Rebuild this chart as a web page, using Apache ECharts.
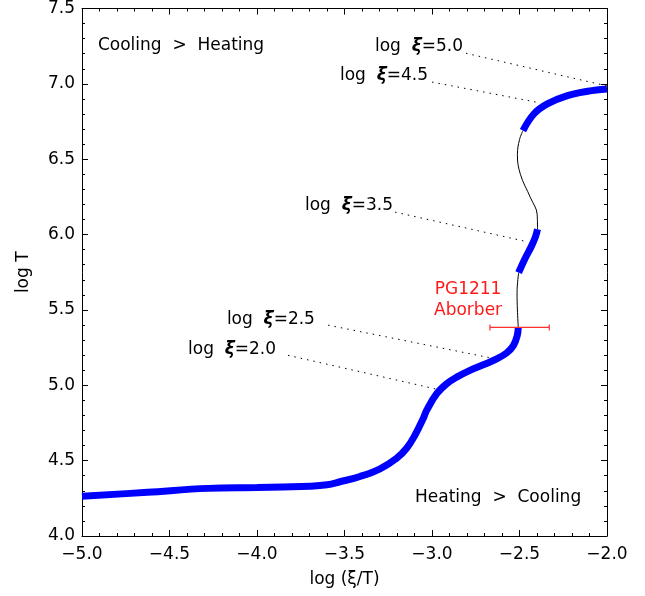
<!DOCTYPE html>
<html>
<head>
<meta charset="utf-8">
<script src="https://cdn.jsdelivr.net/npm/echarts@6/dist/echarts.min.js"></script>
<style>html,body{margin:0;padding:0;background:#fff}#c{width:645px;height:596px}</style>
</head>
<body>
<div id="c"></div>
<script>
// ---- data ----
const xTicks = [-5.0, -4.5, -4.0, -3.5, -3.0, -2.5, -2.0];
const yTicks = [4.0, 4.5, 5.0, 5.5, 6.0, 6.5, 7.0, 7.5];
// stable (thick) branches of the S-curve: [log(xi/T), log T]
const stableLow = [[-5.0,4.263],[-4.625,4.29],[-4.28,4.316],[-4.0,4.321],[-3.853,4.325],[-3.70,4.330],[-3.60,4.340],[-3.526,4.360],[-3.411,4.395],[-3.297,4.446],[-3.202,4.516],[-3.145,4.582],[-3.097,4.670],[-3.05,4.780],[-3.030,4.835],[-2.973,4.944],[-2.916,5.010],[-2.859,5.054],[-2.783,5.099],[-2.707,5.136],[-2.630,5.175],[-2.573,5.215],[-2.535,5.263],[-2.513,5.329],[-2.507,5.384]];
const stableMid = [[-2.505,5.747],[-2.471,5.835],[-2.433,5.920],[-2.409,5.985],[-2.397,6.035]];
const stableHigh = [[-2.48,6.69],[-2.418,6.80],[-2.341,6.867],[-2.226,6.922],[-2.11,6.951],[-2.0,6.966]];
// unstable (thin) branches
const unstable1 = [[-2.507,5.384],[-2.512,5.50],[-2.514,5.615],[-2.505,5.747]];
const unstable2 = [[-2.397,6.035],[-2.399,6.133],[-2.437,6.244],[-2.495,6.40],[-2.512,6.53],[-2.50,6.63],[-2.48,6.69]];
// ionization parameter markers: label, label anchor, curve point
const xiNames = ['log ξ=5.0','log ξ=4.5','log ξ=3.5','log ξ=2.5','log ξ=2.0'];
const xiLabelAt = [[-2.823,7.25],[-3.023,7.052],[-3.223,6.195],[-3.669,5.437],[-3.891,5.239]];
const xiLineFrom = [[-2.806,7.203],[-3.0,7.012],[-3.211,6.149],[-3.594,5.399],[-3.823,5.199]];
const xiLineTo = [[-2.0,6.986],[-2.383,6.874],[-2.451,5.951],[-2.657,5.180],[-2.954,4.969]];
// PG1211 absorber: [x, y, xLow, xHigh]
const absorber = [[-2.507, 5.384, -2.669, -2.33]];
const regionText = ['Cooling  >  Heating', 'Heating  >  Cooling'];
const regionAt = [[-4.909,7.255],[-3.097,4.255]];
const absText = ['PG1211', 'Aborber'];
const absAt = [[-2.794,5.635],[-2.794,5.497]];

const FONT = 'DejaVu Sans';
const fmt = v => v.toFixed(1).replace('-', '\u2212');

function axisCommon(showLabel) {
  return {
    axisLine: {show: true, onZero: false, lineStyle: {color: '#000', width: 1}},
    axisTick: {show: true, inside: true, length: 6, lineStyle: {color: '#000'}},
    minorTick: {show: true, splitNumber: 5, length: 3, lineStyle: {color: '#000'}},
    splitLine: {show: false},
    axisLabel: {show: showLabel, formatter: fmt, color: '#000', fontFamily: FONT, fontSize: 17}
  };
}

const chart = echarts.init(document.getElementById('c'), null, {renderer: 'canvas'});

const xiData = xiNames.map((n, i) => ({
  value: xiLabelAt[i], name: n,
  label: {show: true, position: 'left', distance: 0, opacity: 1,
    formatter: '{a|log  }{b|ξ}{a|=' + n.split('=')[1] + '}',
    rich: {a: {fontFamily: FONT, fontSize: 17, color: '#000'},
           b: {fontFamily: FONT, fontSize: 17, color: '#000', fontStyle: 'italic', fontWeight: 'bold'}}}
}));

const regionData = regionText.map((t, i) => ({
  value: regionAt[i],
  label: {show: true, position: 'right', distance: 0, formatter: t, opacity: 1,
    fontFamily: FONT, fontSize: 17, color: '#000'}
}));

const absData = absText.map((t, i) => ({
  value: absAt[i],
  label: {show: true, position: 'inside', formatter: t, opacity: 1,
    fontFamily: FONT, fontSize: 17, color: '#ff1a1a'}
}));

const leaderLines = xiLineFrom.map((p, i) => [{coord: p}, {coord: xiLineTo[i]}]);

const thick = d => ({type: 'line', data: d, smooth: 0.4, symbol: 'none', z: 3,
  lineStyle: {color: '#0000ff', width: 7, cap: 'butt'}});
const thin = d => ({type: 'line', data: d, smooth: 0.4, symbol: 'none', z: 2,
  lineStyle: {color: '#000', width: 1}});

const textSeries = d => ({type: 'scatter', symbolSize: 0, silent: true, z: 5,
  itemStyle: {opacity: 1}, data: d});

chart.setOption({
  animation: false,
  backgroundColor: '#fff',
  grid: {left: 82, right: 38, top: 4, bottom: 60},
  xAxis: [
    Object.assign({type: 'value', position: 'bottom', min: -5, max: -2, interval: 0.5,
      name: 'log (ξ/T)', nameLocation: 'middle', nameGap: 35,
      nameTextStyle: {fontFamily: FONT, fontSize: 17, color: '#000'}}, axisCommon(true),
      {axisLabel: {show: true, formatter: fmt, color: '#000', fontFamily: FONT, fontSize: 17, margin: 10}}),
    Object.assign({type: 'value', position: 'top', min: -5, max: -2, interval: 0.5}, axisCommon(false))
  ],
  yAxis: [
    Object.assign({type: 'value', position: 'left', min: 4, max: 7.5, interval: 0.5,
      name: 'log T', nameLocation: 'middle', nameGap: 50, nameRotate: 90,
      nameTextStyle: {fontFamily: FONT, fontSize: 17, color: '#000'}}, axisCommon(true),
      {axisLabel: {show: true, formatter: fmt, color: '#000', fontFamily: FONT, fontSize: 17, margin: 7}}),
    Object.assign({type: 'value', position: 'right', min: 4, max: 7.5, interval: 0.5}, axisCommon(false))
  ],
  series: [
    thin(unstable1),
    thin(unstable2),
    thick(stableLow),
    thick(stableMid),
    thick(stableHigh),
    {type: 'scatter', symbolSize: 0, silent: true, data: [],
      markLine: {silent: true, symbol: 'none', label: {show: false},
        lineStyle: {color: '#000', width: 1, type: [1.5, 5]}, data: leaderLines}},
    {type: 'custom', z: 4, data: absorber,
      renderItem: function (params, api) {
        const lo = api.coord([api.value(2), api.value(1)]);
        const hi = api.coord([api.value(3), api.value(1)]);
        const h = 3;
        const st = {stroke: '#ff3030', lineWidth: 1.2};
        return {type: 'group', children: [
          {type: 'line', shape: {x1: lo[0], y1: lo[1], x2: hi[0], y2: hi[1]}, style: st},
          {type: 'line', shape: {x1: lo[0], y1: lo[1]-h, x2: lo[0], y2: lo[1]+h}, style: st},
          {type: 'line', shape: {x1: hi[0], y1: hi[1]-h, x2: hi[0], y2: hi[1]+h}, style: st}
        ]};
      }},
    textSeries(xiData),
    textSeries(regionData),
    textSeries(absData)
  ]
});
</script>
</body>
</html>
